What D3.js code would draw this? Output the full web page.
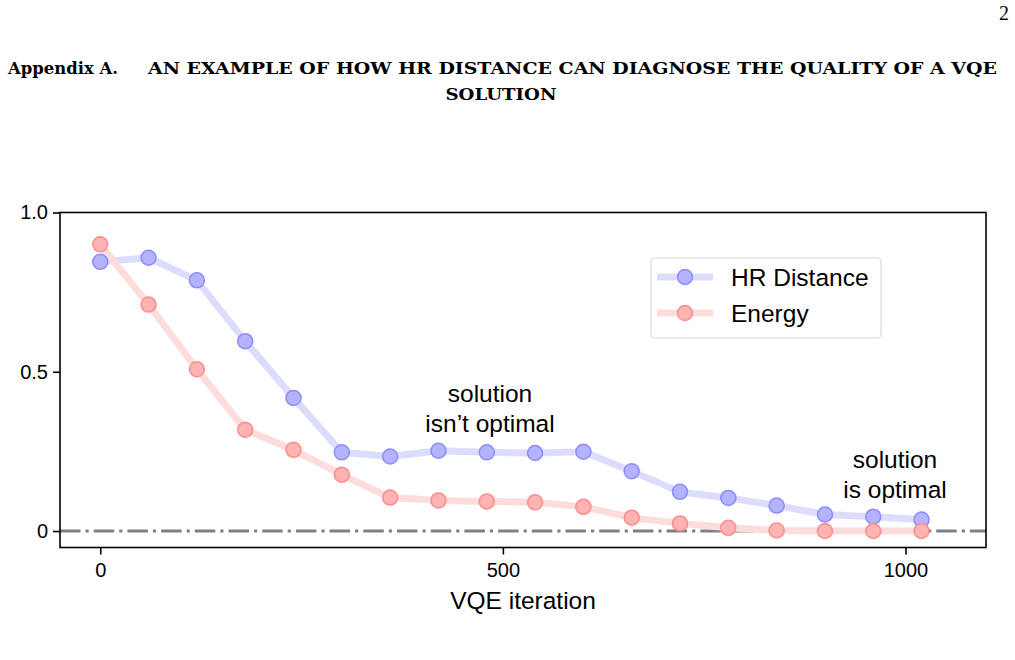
<!DOCTYPE html>
<html>
<head>
<meta charset="utf-8">
<script src="https://cdn.jsdelivr.net/npm/d3@7"></script>
<style>
  body { margin: 0; background: #fff; }
  text { font-family: "Liberation Sans", Arial, sans-serif; }
  .hdr { font-family: "DejaVu Serif", "Liberation Serif", serif; font-weight: bold; }
  .pg { font-family: "Liberation Serif", serif; }
</style>
</head>
<body>
<svg id="chart" width="1015" height="660"></svg>
<script>
var iterations = [0, 60, 120, 180, 240, 300, 360, 420, 480, 540, 600, 660, 720, 780, 840, 900, 960, 1020];
var hrDistance = [0.845, 0.858, 0.787, 0.596, 0.418, 0.247, 0.234, 0.252, 0.247, 0.245, 0.249, 0.188, 0.123, 0.104, 0.080, 0.052, 0.045, 0.036];
var energy = [0.900, 0.711, 0.508, 0.318, 0.255, 0.177, 0.105, 0.096, 0.093, 0.090, 0.076, 0.042, 0.024, 0.010, 0.002, 0.0, 0.0, 0.0];
var xTicks = [0, 500, 1000];
var yTicks = [0, 0.5, 1.0];
var yTickLabels = ["0", "0.5", "1.0"];

var svg = d3.select("#chart");

// page header
svg.append("text").attr("class", "pg").attr("x", 1009).attr("y", 20).attr("text-anchor", "end")
  .style("font-size", "20px").text("2");
svg.append("text").attr("class", "hdr").attr("x", 8).attr("y", 74)
  .style("font-size", "16.5px").attr("textLength", 110).attr("lengthAdjust", "spacingAndGlyphs")
  .text("Appendix A.");
svg.append("text").attr("class", "hdr").attr("x", 148).attr("y", 74)
  .style("font-size", "16.5px").attr("textLength", 849).attr("lengthAdjust", "spacingAndGlyphs")
  .text("AN EXAMPLE OF HOW HR DISTANCE CAN DIAGNOSE THE QUALITY OF A VQE");
svg.append("text").attr("class", "hdr").attr("x", 501).attr("y", 100)
  .style("font-size", "16.5px").attr("text-anchor", "middle")
  .attr("textLength", 111).attr("lengthAdjust", "spacingAndGlyphs")
  .text("SOLUTION");

var plot = { left: 60, top: 212.5, right: 986, bottom: 547.5 };

var x = d3.scaleLinear().domain([-50, 1100]).range([plot.left, plot.right]);
var y = d3.scaleLinear().domain([-0.0517, 1.0]).range([plot.bottom, plot.top]);

// zero reference line
svg.append("line")
  .attr("x1", plot.left).attr("x2", plot.right)
  .attr("y1", y(0)).attr("y2", y(0))
  .attr("stroke", "#808080").attr("stroke-width", 3)
  .attr("stroke-dasharray", "20.5,5,3.2,5");

var series = [
  { name: "HR Distance", values: hrDistance, line: "#dcdcfd", fill: "#b3b3ff", edge: "#8c8cff" },
  { name: "Energy", values: energy, line: "#fddcdc", fill: "#ffb3b3", edge: "#ff8c8c" }
];

var lineGen = d3.line()
  .x(function(d, i) { return x(iterations[i]); })
  .y(function(d) { return y(d); });

series.forEach(function(s) {
  svg.append("path")
    .datum(s.values)
    .attr("d", lineGen)
    .attr("fill", "none")
    .attr("stroke", s.line)
    .attr("stroke-width", 7)
    .attr("stroke-linejoin", "round");
});

series.forEach(function(s) {
  svg.append("g").selectAll("circle")
    .data(s.values)
    .enter()
    .append("circle")
    .attr("cx", function(d, i) { return x(iterations[i]); })
    .attr("cy", function(d) { return y(d); })
    .attr("r", 7.5)
    .attr("fill", s.fill)
    .attr("stroke", s.edge)
    .attr("stroke-width", 1.5);
});

// frame
svg.append("rect")
  .attr("x", plot.left).attr("y", plot.top)
  .attr("width", plot.right - plot.left).attr("height", plot.bottom - plot.top)
  .attr("fill", "none").attr("stroke", "#000").attr("stroke-width", 1.6);

// x axis
var xAxis = svg.append("g")
  .attr("transform", "translate(0," + plot.bottom + ")")
  .call(d3.axisBottom(x).tickValues(xTicks).tickSize(7).tickPadding(8).tickFormat(d3.format("d")));
xAxis.select(".domain").remove();
xAxis.selectAll("line").attr("stroke-width", 1.6);
xAxis.selectAll("text").style("font-size", "20px").attr("fill", "#000")
  .style("font-family", "Liberation Sans, Arial, sans-serif");

// y axis
var yAxis = svg.append("g")
  .attr("transform", "translate(" + plot.left + ",0)")
  .call(d3.axisLeft(y).tickValues(yTicks).tickSize(7).tickPadding(5)
    .tickFormat(function(d, i) { return yTickLabels[i]; }));
yAxis.select(".domain").remove();
yAxis.selectAll("line").attr("stroke-width", 1.6);
yAxis.selectAll("text").style("font-size", "20px").attr("fill", "#000")
  .style("font-family", "Liberation Sans, Arial, sans-serif");

// x label
svg.append("text")
  .attr("x", (plot.left + plot.right) / 2)
  .attr("y", 609)
  .attr("text-anchor", "middle")
  .attr("font-size", 24.5)
  .text("VQE iteration");

// annotations
var notes = [
  { lines: ["solution", "isn\u2019t optimal"], at: 490, y0: 402 },
  { lines: ["solution", "is optimal"], at: 895, y0: 468 }
];
notes.forEach(function(n) {
  n.lines.forEach(function(t, k) {
    svg.append("text")
      .attr("x", n.at).attr("y", n.y0 + k * 30)
      .attr("text-anchor", "middle")
      .attr("font-size", 24.5)
      .text(t);
  });
});

// legend
var lg = svg.append("g");
lg.append("rect")
  .attr("x", 651).attr("y", 258).attr("width", 230).attr("height", 80)
  .attr("rx", 4).attr("fill", "#fff").attr("fill-opacity", 0.8)
  .attr("stroke", "#d9d9d9").attr("stroke-width", 1.2);
series.forEach(function(s, k) {
  var ly = 277 + k * 36;
  lg.append("line").attr("x1", 657).attr("x2", 713).attr("y1", ly).attr("y2", ly)
    .attr("stroke", s.line).attr("stroke-width", 7);
  lg.append("circle").attr("cx", 685).attr("cy", ly).attr("r", 7.5)
    .attr("fill", s.fill).attr("stroke", s.edge).attr("stroke-width", 1.5);
  lg.append("text").attr("x", 731).attr("y", ly + 9).attr("font-size", 24.5).text(s.name);
});
</script>
</body>
</html>
